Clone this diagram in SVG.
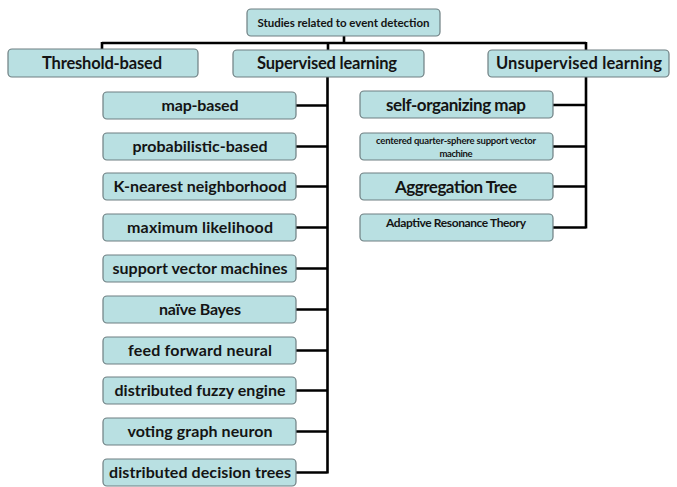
<svg xmlns="http://www.w3.org/2000/svg" width="677" height="487" viewBox="0 0 677 487">
<style>
.box{fill:#b9e0e2;stroke:#6e7f82;stroke-width:1.2}
.t{font-family:Lato,"Liberation Sans",sans-serif;font-weight:bold;fill:#141414;text-anchor:middle}
.c{stroke:#000;stroke-width:2.6;fill:none}
</style>
<rect width="677" height="487" fill="#fff"/>
<g id="connectors">
<path class="c" d="M344,36V43M102,43H586M102,42V49M328,42V50M586,42V50"/>
<path class="c" d="M327.5,77V473.5M296,105.5H327.5M296,146.5H327.5M296,186.5H327.5M296,227.5H327.5M296,268.5H327.5M296,309.5H327.5M296,350.5H327.5M296,390.5H327.5M296,431.5H327.5M296,472.5H327.5"/>
<path class="c" d="M586,77V228.5M553,105H586M553,146.5H586M553,186.5H586M553,227.5H586"/>
</g>
<g id="root"><rect class="box" x="247" y="9" width="193" height="27" rx="4"/><text class="t" x="343.5" y="26.5" font-size="11.5" textLength="172">Studies related to event detection</text></g>
<g id="threshold"><rect class="box" x="8" y="49" width="190" height="28" rx="4"/><text class="t" x="102" y="69" font-size="16.5" textLength="120">Threshold-based</text></g>
<g id="supervised"><rect class="box" x="233" y="50" width="191" height="27" rx="4"/><text class="t" x="327" y="69" font-size="16.5" textLength="140">Supervised learning</text></g>
<g id="unsupervised"><rect class="box" x="488" y="50" width="181" height="27" rx="4"/><text class="t" x="579" y="69" font-size="16.5" textLength="166">Unsupervised learning</text></g>
<g id="s1"><rect class="box" x="103" y="92" width="193" height="27" rx="4"/><text class="t" x="200" y="111" font-size="16" textLength="77">map-based</text></g>
<g id="s2"><rect class="box" x="103" y="133" width="193" height="27" rx="4"/><text class="t" x="200" y="152" font-size="16" textLength="135">probabilistic-based</text></g>
<g id="s3"><rect class="box" x="103" y="173" width="193" height="27" rx="4"/><text class="t" x="200" y="192" font-size="16" textLength="173">K-nearest neighborhood</text></g>
<g id="s4"><rect class="box" x="103" y="214" width="193" height="27" rx="4"/><text class="t" x="200" y="233" font-size="16" textLength="146">maximum likelihood</text></g>
<g id="s5"><rect class="box" x="103" y="255" width="193" height="27" rx="4"/><text class="t" x="200" y="274" font-size="16" textLength="175">support vector machines</text></g>
<g id="s6"><rect class="box" x="103" y="296" width="193" height="27" rx="4"/><text class="t" x="200" y="315" font-size="16" textLength="82">naïve Bayes</text></g>
<g id="s7"><rect class="box" x="103" y="337" width="193" height="27" rx="4"/><text class="t" x="200" y="356" font-size="16" textLength="144">feed forward neural</text></g>
<g id="s8"><rect class="box" x="103" y="377" width="193" height="27" rx="4"/><text class="t" x="200" y="396" font-size="16" textLength="171">distributed fuzzy engine</text></g>
<g id="s9"><rect class="box" x="103" y="418" width="193" height="27" rx="4"/><text class="t" x="200" y="437" font-size="16" textLength="145">voting graph neuron</text></g>
<g id="s10"><rect class="box" x="103" y="459" width="193" height="27" rx="4"/><text class="t" x="200" y="478" font-size="16" textLength="182">distributed decision trees</text></g>
<g id="u1"><rect class="box" x="360" y="91" width="193" height="27" rx="4"/><text class="t" x="456" y="111" font-size="17" textLength="140">self-organizing map</text></g>
<g id="u2"><rect class="box" x="360" y="133" width="193" height="27" rx="4"/><text class="t" x="456" y="144" font-size="9.5" textLength="160">centered quarter-sphere  support vector</text><text class="t" x="456" y="157" font-size="9.5" textLength="33">machine</text></g>
<g id="u3"><rect class="box" x="360" y="173" width="193" height="27" rx="4"/><text class="t" x="456" y="193" font-size="17" textLength="122">Aggregation Tree</text></g>
<g id="u4"><rect class="box" x="360" y="214" width="193" height="27" rx="4"/><text class="t" x="456" y="227" font-size="12" textLength="140">Adaptive Resonance Theory</text></g>
</svg>
